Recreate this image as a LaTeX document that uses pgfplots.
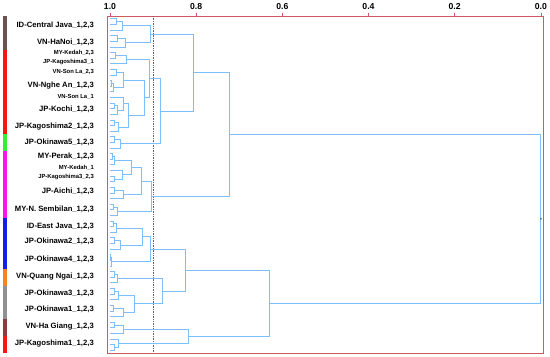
\documentclass[border=0pt]{standalone}
\usepackage{fontspec}
\setmainfont{Liberation Sans}
\usepackage{pgfplots}
\pgfplotsset{compat=1.18}
\definecolor{axred}{RGB}{208,88,100}
\definecolor{dend}{RGB}{125,190,252}
\definecolor{sDark}{RGB}{110,80,80}
\definecolor{sRed}{RGB}{250,20,20}
\definecolor{sGreen}{RGB}{50,240,50}
\definecolor{sMag}{RGB}{250,20,240}
\definecolor{sBlue}{RGB}{20,30,230}
\definecolor{sOrange}{RGB}{250,130,30}
\definecolor{sGray}{RGB}{145,145,145}
\definecolor{sBrown}{RGB}{140,60,60}
\newcommand\Lg[1]{{\fontsize{7.7}{9}\selectfont #1}}
\newcommand\Sm[1]{{\fontsize{5.9}{7}\selectfont #1}}
\begin{document}
\begin{tikzpicture}
\path[use as bounding box] (0,0) rectangle (550bp,357bp);
\begin{axis}[
  at={(107bp,4bp)}, anchor=south west,
  scale only axis, width=436bp, height=337bp,
  x dir=reverse, y dir=reverse,
  xmin=-0.005, xmax=1.007, ymin=0.5, ymax=60.5,
  clip=false,
  unbounded coords=jump,
  axis line style={axred, line width=0.8pt},
  xtick={0,0.2,0.4,0.6,0.8,1.0},
  xtick pos=right, xticklabel pos=right,
  tick align=outside,
  major tick length=3.5bp,
  x tick style={axred, line width=0.6pt},
  xticklabel style={font=\bfseries\fontsize{8.7}{10}\selectfont, yshift=-1bp},
  x tick label style={/pgf/number format/.cd, fixed, fixed zerofill, precision=1, assume math mode=true},
  ytick={2.2,5.1,7.0,8.7,10.4,12.8,14.9,17.1,20.2,22.9,25.4,27.5,29.2,31.8,34.9,37.9,40.7,43.8,46.8,49.8,52.8,55.8,58.8},
  yticklabels={
    {\Lg{ID-Central Java\_1,2,3}},
    {\Lg{VN-HaNoi\_1,2,3}},
    {\Sm{MY-Kedah\_2,3}},
    {\Sm{JP-Kagoshima3\_1}},
    {\Sm{VN-Son La\_2,3}},
    {\Lg{VN-Nghe An\_1,2,3}},
    {\Sm{VN-Son La\_1}},
    {\Lg{JP-Kochi\_1,2,3}},
    {\Lg{JP-Kagoshima2\_1,2,3}},
    {\Lg{JP-Okinawa5\_1,2,3}},
    {\Lg{MY-Perak\_1,2,3}},
    {\Sm{MY-Kedah\_1}},
    {\Sm{JP-Kagoshima3\_2,3}},
    {\Lg{JP-Aichi\_1,2,3}},
    {\Lg{MY-N. Sembilan\_1,2,3}},
    {\Lg{ID-East Java\_1,2,3}},
    {\Lg{JP-Okinawa2\_1,2,3}},
    {\Lg{JP-Okinawa4\_1,2,3}},
    {\Lg{VN-Quang Ngai\_1,2,3}},
    {\Lg{JP-Okinawa3\_1,2,3}},
    {\Lg{JP-Okinawa1\_1,2,3}},
    {\Lg{VN-Ha Giang\_1,2,3}},
    {\Lg{JP-Kagoshima1\_1,2,3}}},
  y tick style={draw=none},
  yticklabel style={font=\bfseries, inner sep=0pt, xshift=-9.5bp},
]
% colour strips of the groups
\addplot[fill=sDark, draw=none] coordinates {(1.248,0.5)(1.238,0.5)(1.238,6.5)(1.248,6.5)} -- cycle;
\addplot[fill=sRed, draw=none] coordinates {(1.248,6.5)(1.238,6.5)(1.238,21.5)(1.248,21.5)} -- cycle;
\addplot[fill=sGreen, draw=none] coordinates {(1.248,21.5)(1.238,21.5)(1.238,24.5)(1.248,24.5)} -- cycle;
\addplot[fill=sMag, draw=none] coordinates {(1.248,24.5)(1.238,24.5)(1.238,36.5)(1.248,36.5)} -- cycle;
\addplot[fill=sBlue, draw=none] coordinates {(1.248,36.5)(1.238,36.5)(1.238,45.5)(1.248,45.5)} -- cycle;
\addplot[fill=sOrange, draw=none] coordinates {(1.248,45.5)(1.238,45.5)(1.238,48.5)(1.248,48.5)} -- cycle;
\addplot[fill=sGray, draw=none] coordinates {(1.248,48.5)(1.238,48.5)(1.238,54.5)(1.248,54.5)} -- cycle;
\addplot[fill=sBrown, draw=none] coordinates {(1.248,54.5)(1.238,54.5)(1.238,57.5)(1.248,57.5)} -- cycle;
\addplot[fill=sRed, draw=none] coordinates {(1.248,57.5)(1.238,57.5)(1.238,60.5)(1.248,60.5)} -- cycle;
% cut-off line
\addplot[densely dotted, black!60, line width=0.7pt] coordinates {(0.900,0.5)(0.900,60.5)};
% dendrogram
\addplot[dend, line width=0.75pt] coordinates {
(1,1)(0.986,1)(0.986,2)(1,2)(nan,nan)
(0.986,1.5)(0.972,1.5)(0.972,3)(1,3)(nan,nan)
(1,4)(0.984,4)(0.984,5)(1,5)(nan,nan)
(0.984,4.5)(0.965,4.5)(0.965,6)(1,6)(nan,nan)
(0.972,2.25)(0.907,2.25)(0.907,5.25)(0.965,5.25)(nan,nan)
(1,7)(0.988,7)(0.988,8)(1,8)(nan,nan)
(0.988,7.5)(0.963,7.5)(0.963,9)(1,9)(nan,nan)
(1,10)(0.986,10)(0.986,11)(1,11)(nan,nan)
(1,12)(0.996,12)(0.996,13)(1,13)(nan,nan)
(0.996,12.5)(0.993,12.5)(0.993,14)(1,14)(nan,nan)
(0.986,10.5)(0.968,10.5)(0.968,13.25)(0.993,13.25)(nan,nan)
(1,16)(0.991,16)(0.991,17)(1,17)(nan,nan)
(0.991,16.5)(0.982,16.5)(0.982,18)(1,18)(nan,nan)
(1,15)(0.970,15)(0.970,17.25)(0.982,17.25)(nan,nan)
(1,19)(0.991,19)(0.991,20)(1,20)(nan,nan)
(0.991,19.5)(0.981,19.5)(0.981,21)(1,21)(nan,nan)
(0.970,16.125)(0.958,16.125)(0.958,20.25)(0.981,20.25)(nan,nan)
(0.968,11.875)(0.921,11.875)(0.921,18.19)(0.958,18.19)(nan,nan)
(0.963,8.25)(0.908,8.25)(0.908,15.03)(0.921,15.03)(nan,nan)
(1,22)(0.990,22)(0.990,23)(1,23)(nan,nan)
(0.990,22.5)(0.976,22.5)(0.976,24)(1,24)(nan,nan)
(0.908,11.64)(0.884,11.64)(0.884,23.25)(0.976,23.25)(nan,nan)
(0.907,3.75)(0.807,3.75)(0.807,17.45)(0.884,17.45)(nan,nan)
(1,25)(0.995,25)(0.995,26)(1,26)(nan,nan)
(0.995,25.5)(0.990,25.5)(0.990,27)(1,27)(nan,nan)
(1,29)(0.990,29)(0.990,30)(1,30)(nan,nan)
(1,28)(0.972,28)(0.972,29.5)(0.990,29.5)(nan,nan)
(0.990,26.25)(0.951,26.25)(0.951,28.75)(0.972,28.75)(nan,nan)
(1,31)(0.990,31)(0.990,32)(1,32)(nan,nan)
(0.990,31.5)(0.970,31.5)(0.970,33)(1,33)(nan,nan)
(0.951,27.5)(0.928,27.5)(0.928,32.25)(0.970,32.25)(nan,nan)
(1,34)(0.993,34)(0.993,35)(1,35)(nan,nan)
(0.993,34.5)(0.984,34.5)(0.984,36)(1,36)(nan,nan)
(0.928,29.875)(0.903,29.875)(0.903,35.25)(0.984,35.25)(nan,nan)
(0.807,10.6)(0.724,10.6)(0.724,32.56)(0.903,32.56)(nan,nan)
(1,37)(0.993,37)(0.993,38)(1,38)(nan,nan)
(0.993,37.5)(0.986,37.5)(0.986,39)(1,39)(nan,nan)
(1,40)(0.990,40)(0.990,41)(1,41)(nan,nan)
(0.990,40.5)(0.975,40.5)(0.975,42)(1,42)(nan,nan)
(0.986,38.25)(0.926,38.25)(0.926,41.25)(0.975,41.25)(nan,nan)
(1,43)(0.998,43)(0.998,44)(1,44)(nan,nan)
(0.998,43.5)(0.996,43.5)(0.996,45)(1,45)(nan,nan)
(0.926,39.75)(0.907,39.75)(0.907,44.25)(0.996,44.25)(nan,nan)
(1,46)(0.990,46)(0.990,47)(1,47)(nan,nan)
(0.990,46.5)(0.984,46.5)(0.984,48)(1,48)(nan,nan)
(1,49)(0.990,49)(0.990,50)(1,50)(nan,nan)
(0.990,49.5)(0.981,49.5)(0.981,51)(1,51)(nan,nan)
(1,52)(0.993,52)(0.993,53)(1,53)(nan,nan)
(0.993,52.5)(0.968,52.5)(0.968,54)(1,54)(nan,nan)
(0.981,50.25)(0.944,50.25)(0.944,53.25)(0.968,53.25)(nan,nan)
(0.984,47.25)(0.879,47.25)(0.879,51.75)(0.944,51.75)(nan,nan)
(0.907,42)(0.824,42)(0.824,49.5)(0.879,49.5)(nan,nan)
(1,55)(0.990,55)(0.990,56)(1,56)(nan,nan)
(0.990,55.5)(0.968,55.5)(0.968,57)(1,57)(nan,nan)
(1,59)(0.990,59)(0.990,60)(1,60)(nan,nan)
(1,58)(0.981,58)(0.981,59.5)(0.990,59.5)(nan,nan)
(0.968,56.25)(0.817,56.25)(0.817,58.75)(0.981,58.75)(nan,nan)
(0.824,45.75)(0.631,45.75)(0.631,57.5)(0.817,57.5)(nan,nan)
(0.724,21.58)(0.0,21.58)(0.0,51.625)(0.631,51.625)
};
\addplot[only marks, mark=*, mark size=0.8pt, black!55] coordinates {(0,36.6)};
\end{axis}
\end{tikzpicture}
\end{document}
